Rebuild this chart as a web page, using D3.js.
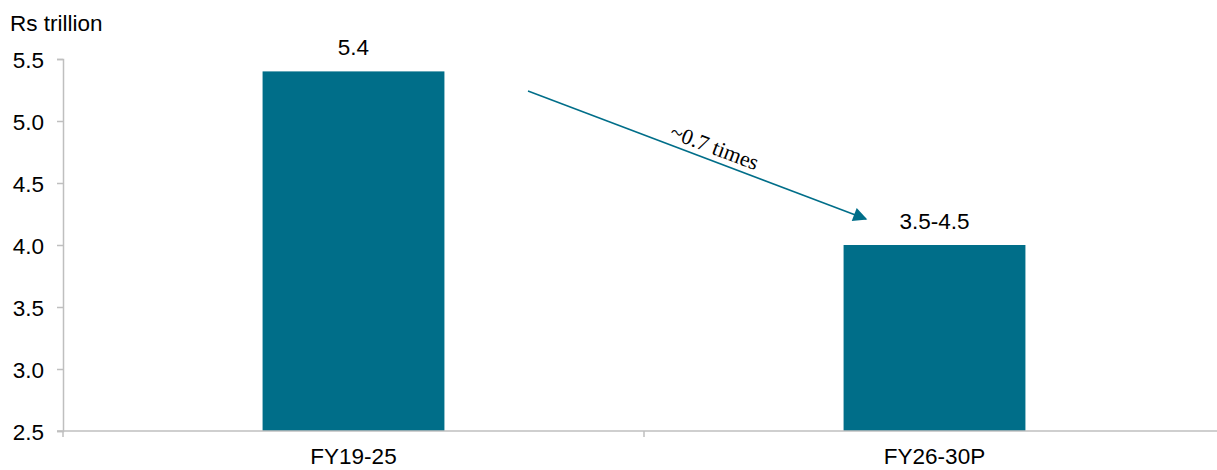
<!DOCTYPE html>
<html>
<head>
  <style>
    body { margin: 0; background: #fff; }
    text { font-family: "Liberation Sans", Arial, sans-serif; fill: #000; }
  </style>
</head>
<body>
  <div id="chart"></div>
  <script src="https://d3js.org/d3.v7.min.js"></script>
  <script>
    // Chart data
    const categories = ["FY19-25", "FY26-30P"];
    const values = [5.4, 4.0];
    const valueLabels = ["5.4", "3.5-4.5"];
    const yTicks = [2.5, 3.0, 3.5, 4.0, 4.5, 5.0, 5.5];
    const unitLabel = "Rs trillion";
    const arrowLabel = "~0.7 times";

    const width = 1217, height = 470;
    const barColor = "#006e89";
    const axisColor = "#bfbfbf";
    const fontSize = "22.5px";

    const svg = d3.select("#chart")
      .append("svg")
      .attr("width", width)
      .attr("height", height);

    const x = d3.scaleBand()
      .domain(categories)
      .range([63, 1225])
      .paddingInner(0.687)
      .paddingOuter(0.3435);

    const y = d3.scaleLinear()
      .domain([2.5, 5.5])
      .range([431, 59]);

    // Bars
    svg.selectAll("rect.bar")
      .data(values)
      .enter()
      .append("rect")
      .attr("class", "bar")
      .attr("x", (d, i) => x(categories[i]))
      .attr("y", d => y(d))
      .attr("width", x.bandwidth())
      .attr("height", d => y(2.5) - y(d))
      .attr("fill", barColor);

    // Y axis
    const yAxis = svg.append("g")
      .attr("transform", "translate(63,0)")
      .call(d3.axisLeft(y).tickValues(yTicks).tickFormat(d3.format(".1f")).tickSize(6).tickPadding(13));
    yAxis.select(".domain").attr("stroke", axisColor).attr("stroke-width", 1.5);
    yAxis.selectAll(".tick line").attr("stroke", axisColor).attr("stroke-width", 1.5);
    yAxis.selectAll(".tick text").style("font-size", fontSize).attr("dy", "0.36em");

    // X axis
    const xAxis = svg.append("g")
      .attr("transform", "translate(0,431)");
    xAxis.append("line")
      .attr("x1", 57).attr("x2", width)
      .attr("stroke", axisColor).attr("stroke-width", 1.5);
    const step = x.step();
    xAxis.selectAll("line.tk")
      .data(categories)
      .enter()
      .append("line")
      .attr("class", "tk")
      .attr("x1", (d, i) => 63 + i * step)
      .attr("x2", (d, i) => 63 + i * step)
      .attr("y1", 0).attr("y2", 6)
      .attr("stroke", axisColor).attr("stroke-width", 1.5);
    xAxis.selectAll("text")
      .data(categories)
      .enter()
      .append("text")
      .attr("x", d => x(d) + x.bandwidth() / 2)
      .attr("y", 33)
      .attr("text-anchor", "middle")
      .style("font-size", fontSize)
      .text(d => d);

    // Value labels
    svg.selectAll("text.val")
      .data(values)
      .enter()
      .append("text")
      .attr("class", "val")
      .attr("x", (d, i) => x(categories[i]) + x.bandwidth() / 2)
      .attr("y", d => y(d) - 16)
      .attr("text-anchor", "middle")
      .style("font-size", fontSize)
      .text((d, i) => valueLabels[i]);

    // Unit label
    svg.append("text")
      .attr("x", 10)
      .attr("y", 31)
      .style("font-size", fontSize)
      .text(unitLabel);

    // Arrow annotation
    svg.append("defs").append("marker")
      .attr("id", "arrowhead")
      .attr("viewBox", "0 0 10 10")
      .attr("refX", 9).attr("refY", 5)
      .attr("markerWidth", 18).attr("markerHeight", 14)
      .attr("markerUnits", "userSpaceOnUse")
      .attr("orient", "auto")
      .append("path")
      .attr("d", "M0,0 L10,5 L0,10 Z")
      .attr("fill", barColor);

    const x0 = 528, y0 = 91, x1 = 866, y1 = 219;
    svg.append("line")
      .attr("x1", x0).attr("y1", y0)
      .attr("x2", x1).attr("y2", y1)
      .attr("stroke", barColor)
      .attr("stroke-width", 1.5)
      .attr("marker-end", "url(#arrowhead)");

    const angle = Math.atan2(y1 - y0, x1 - x0) * 180 / Math.PI;
    svg.append("text")
      .attr("transform", `translate(712,154) rotate(${angle})`)
      .attr("text-anchor", "middle")
      .style("font-family", "'Liberation Serif', 'Times New Roman', serif")
      .style("font-size", "22px")
      .text(arrowLabel);
  </script>
</body>
</html>
